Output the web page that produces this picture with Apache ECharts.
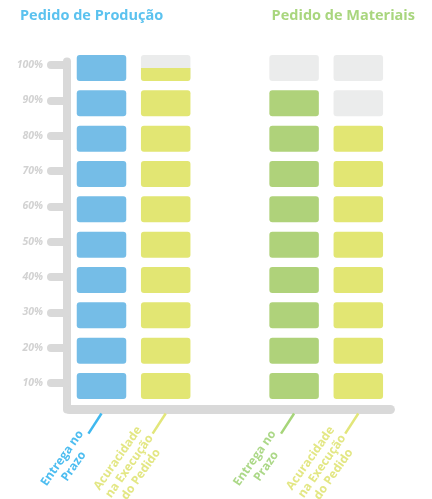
<!DOCTYPE html>
<html>
<head>
<meta charset="utf-8">
<style>
html,body{margin:0;padding:0;background:#fff;}
#chart{width:432px;height:499px;}
</style>
<script src="https://cdn.jsdelivr.net/npm/echarts@6/dist/echarts.min.js"></script>
</head>
<body>
<div id="chart"></div>
<script>
// ---- data ----
const categories = ['Entrega no\nPrazo', 'Acuracidade\nna Execução\ndo Pedido', '', 'Entrega no\nPrazo', 'Acuracidade\nna Execução\ndo Pedido'];
const groupTitles = ['Pedido de Produção', 'Pedido de Materiais'];
const producao = [100, 95];   // Entrega no Prazo, Acuracidade
const materiais = [90, 80];   // Entrega no Prazo, Acuracidade
const tickValues = [10, 20, 30, 40, 50, 60, 70, 80, 90, 100];
const tickLabels = ['10%', '20%', '30%', '40%', '50%', '60%', '70%', '80%', '90%', '100%'];

// ---- styling ----
const BLUE = '#75bde7', YELLOW = '#e2e673', GREEN = '#afd27a', EMPTY = '#ebecec';
const AXIS = '#d9d9d9';
const catColors = ['#3fb8ef', '#e2e67a', null, '#a6d579', '#e2e67a'];
const labelColors = ['#4dbdf0', '#e3e784', null, '#acd888', '#e3e784'];
const FONT = '"Open Sans", "DejaVu Sans", sans-serif';

function renderBlocks(color) {
  return function (params, api) {
    const cat = api.value(0), val = api.value(1);
    const band = api.size([1, 0])[0];
    const w = band * 0.771;
    const step = tickValues[1] - tickValues[0];
    const children = [];
    tickValues.forEach(function (level) {
      const top = api.coord([cat, level + 2.83]);
      const bot = api.coord([cat, level - 4.53]);
      const x = top[0] - w / 2, y0 = top[1], h = bot[1] - top[1];
      const frac = Math.max(0, Math.min(1, (val - (level - step)) / step));
      if (frac < 1) {
        children.push({type: 'rect', shape: {x: x, y: y0, width: w, height: h, r: 3}, style: {fill: EMPTY}});
      }
      if (frac > 0) {
        children.push({type: 'rect',
          shape: {x: x, y: y0 + h * (1 - frac), width: w, height: h * frac, r: frac < 1 ? [0, 0, 3, 3] : 3},
          style: {fill: color}});
      }
    });
    return {type: 'group', children: children};
  };
}

const richText = {};
const richBar = {};
categories.forEach(function (c, i) {
  if (!c) return;
  richText['t' + i] = {color: labelColors[i], fontFamily: FONT, fontWeight: 'bold', fontSize: 12, lineHeight: 14, align: 'center'};
  richBar['b' + i] = {width: 24, height: 2.5, backgroundColor: catColors[i]};
});

const chart = echarts.init(document.getElementById('chart'), null, {renderer: 'canvas'});
chart.setOption({
  animation: false,
  backgroundColor: '#fff',
  title: [
    {text: groupTitles[0], left: 20, top: 8, padding: 0,
     textStyle: {color: '#5bc2ef', fontFamily: FONT, fontWeight: 'bold', fontSize: 14.5}},
    {text: groupTitles[1], right: 17, top: 8, padding: 0,
     textStyle: {color: '#a9d67e', fontFamily: FONT, fontWeight: 'bold', fontSize: 14.5}}
  ],
  grid: {left: 69.4, right: 41.6, top: 61.5, bottom: 89.5, containLabel: false, outerBoundsMode: 'none'},
  xAxis: [
    {
      type: 'category', data: categories, boundaryGap: true,
      axisLine: {show: true, lineStyle: {color: AXIS, width: 9, cap: 'round'}},
      axisTick: {show: false},
      splitLine: {show: false},
      axisLabel: {
        interval: 0, rotate: 55, margin: 5,
        padding: [0, 26, 0, 0],
        formatter: function (v, i) {
          if (!v) return '';
          return v.split('\n').map(function (s) { return '{t' + i + '|' + s + '}'; }).join('\n');
        },
        rich: richText
      }
    },
    {
      type: 'category', data: categories, boundaryGap: true, position: 'bottom',
      axisLine: {show: false}, axisTick: {show: false}, splitLine: {show: false},
      axisLabel: {
        interval: 0, rotate: 57, margin: 4,
        formatter: function (v, i) { return v ? '{b' + i + '|}' : ''; },
        rich: richBar
      }
    }
  ],
  yAxis: {
    type: 'value', min: 2.5, max: 101, offset: 2.4,
    axisLine: {show: true, lineStyle: {color: AXIS, width: 8, cap: 'round'}},
    axisTick: {show: true, customValues: tickValues, length: 16, lineStyle: {color: AXIS, width: 8, cap: 'round'}},
    axisLabel: {
      customValues: tickValues, margin: 24,
      formatter: function (v) { return tickLabels[tickValues.indexOf(v)]; },
      color: '#d2d2d2', fontFamily: FONT, fontWeight: 'bold', fontStyle: 'italic', fontSize: 10.5
    },
    splitLine: {show: false}
  },
  series: [
    {type: 'custom', name: groupTitles[0] + ' - Entrega', renderItem: renderBlocks(BLUE),
     data: [[0, producao[0]]], clip: false},
    {type: 'custom', name: groupTitles[0] + ' - Acuracidade', renderItem: renderBlocks(YELLOW),
     data: [[1, producao[1]]], clip: false},
    {type: 'custom', name: groupTitles[1] + ' - Entrega', renderItem: renderBlocks(GREEN),
     data: [[3, materiais[0]]], clip: false},
    {type: 'custom', name: groupTitles[1] + ' - Acuracidade', renderItem: renderBlocks(YELLOW),
     data: [[4, materiais[1]]], clip: false}
  ]
});
</script>
</body>
</html>
